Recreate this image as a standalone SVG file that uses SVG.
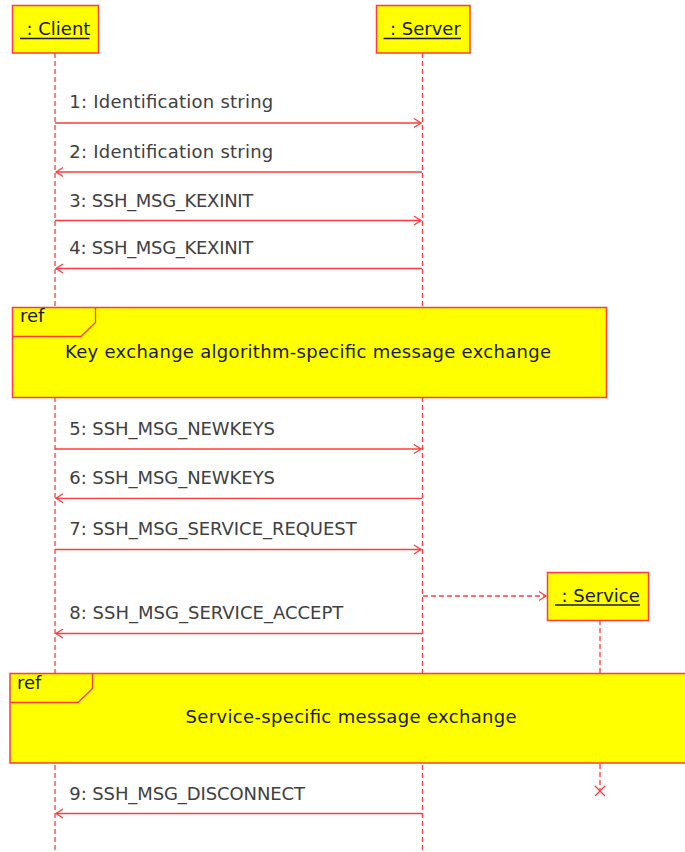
<svg xmlns="http://www.w3.org/2000/svg" width="685" height="852" viewBox="0 0 685 852">
<style>
.box{fill:#ffff00;stroke:#ff3b3b;stroke-width:1.5}
.life{stroke:#ff3b3b;stroke-width:1.3;stroke-dasharray:5,3;fill:none}
.msg{stroke:#ff3b3b;stroke-width:1.3;fill:none}
.dmsg{stroke:#ff3b3b;stroke-width:1.3;fill:none;stroke-dasharray:5,3}
.head{stroke:#ff3b3b;stroke-width:1.3;fill:none}
.lbl{font-family:"DejaVu Sans",sans-serif;font-size:18px;fill:#404040}
.name{font-family:"DejaVu Sans",sans-serif;font-size:18px;fill:#1a1a1a}
.ul{stroke:#1a1a1a;stroke-width:1.3}
</style>
<rect width="685" height="852" fill="#ffffff"/>
<g id="lifelines">
<line class="life" x1="55" y1="53" x2="55" y2="852"/>
<line class="life" x1="422.5" y1="53" x2="422.5" y2="852"/>
<line class="life" x1="600" y1="620" x2="600" y2="791"/>
<path class="msg" d="M595 786 L605 796 M605 786 L595 796"/>
</g>
<g id="client">
<rect class="box" x="12.5" y="5.5" width="86" height="47.5"/>
<text class="name" x="26.5" y="35">: Client</text>
<line class="ul" x1="20" y1="38.5" x2="89.5" y2="38.5"/>
</g>
<g id="server">
<rect class="box" x="376.5" y="5.5" width="93.5" height="47.5"/>
<text class="name" x="390" y="35">: Server</text>
<line class="ul" x1="383.5" y1="38.5" x2="461" y2="38.5"/>
</g>
<g id="service">
<rect class="box" x="547.5" y="572.5" width="101" height="48"/>
<text class="name" x="561.5" y="601.5">: Service</text>
<line class="ul" x1="555" y1="605" x2="640" y2="605"/>
</g>
<g id="connectors">
<line class="msg" x1="55" y1="123" x2="421" y2="123"/>
<path class="head" d="M414 118.5 L421 123 L414 127.5"/>
<text class="lbl" x="69.3" y="108.3" textLength="204">1: Identification string</text>
<line class="msg" x1="422" y1="172" x2="56" y2="172"/>
<path class="head" d="M63 167.5 L56 172 L63 176.5"/>
<text class="lbl" x="69.3" y="158" textLength="204">2: Identification string</text>
<line class="msg" x1="55" y1="220.5" x2="421" y2="220.5"/>
<path class="head" d="M414 216 L421 220.5 L414 225"/>
<text class="lbl" x="69.3" y="206.5" textLength="184">3: SSH_MSG_KEXINIT</text>
<line class="msg" x1="422" y1="268.5" x2="56" y2="268.5"/>
<path class="head" d="M63 264 L56 268.5 L63 273"/>
<text class="lbl" x="69.3" y="254.3" textLength="184">4: SSH_MSG_KEXINIT</text>
<line class="msg" x1="55" y1="449" x2="421" y2="449"/>
<path class="head" d="M414 444.5 L421 449 L414 453.5"/>
<text class="lbl" x="69.3" y="435" textLength="205.7">5: SSH_MSG_NEWKEYS</text>
<line class="msg" x1="422" y1="498.3" x2="56" y2="498.3"/>
<path class="head" d="M63 493.8 L56 498.3 L63 502.8"/>
<text class="lbl" x="69.3" y="484" textLength="205.7">6: SSH_MSG_NEWKEYS</text>
<line class="msg" x1="55" y1="549.5" x2="421" y2="549.5"/>
<path class="head" d="M414 545 L421 549.5 L414 554"/>
<text class="lbl" x="69.3" y="535" textLength="287.4">7: SSH_MSG_SERVICE_REQUEST</text>
<line class="dmsg" x1="423" y1="596" x2="546" y2="596"/>
<path class="head" d="M539 591.5 L546 596 L539 600.5"/>
<line class="msg" x1="422" y1="633.5" x2="56" y2="633.5"/>
<path class="head" d="M63 629 L56 633.5 L63 638"/>
<text class="lbl" x="69.3" y="619.3" textLength="274">8: SSH_MSG_SERVICE_ACCEPT</text>
<line class="msg" x1="422" y1="813.5" x2="56" y2="813.5"/>
<path class="head" d="M63 809 L56 813.5 L63 818"/>
<text class="lbl" x="69.3" y="800" textLength="235.7">9: SSH_MSG_DISCONNECT</text>
</g>
<g id="ref-keyexchange">
<rect class="box" x="12.5" y="307.5" width="594" height="90"/>
<path class="head" d="M12.5 336.5 L81 336.5 L95.5 322.5 L95.5 307.5"/>
<text class="name" x="20" y="322">ref</text>
<text class="name" x="65" y="357.7" textLength="486">Key exchange algorithm-specific message exchange</text>
</g>
<g id="ref-service">
<rect class="box" x="10" y="673.5" width="690" height="89.5"/>
<path class="head" d="M10 702.5 L78 702.5 L92.5 688.5 L92.5 673.5"/>
<text class="name" x="17" y="688.5">ref</text>
<text class="name" x="185.6" y="723.3" textLength="331">Service-specific message exchange</text>
</g>
</svg>
